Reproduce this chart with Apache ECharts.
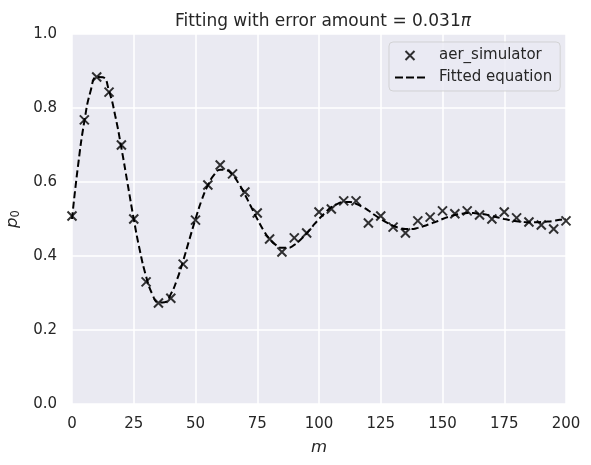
<!DOCTYPE html>
<html>
<head>
<meta charset="utf-8">
<script src="https://cdn.jsdelivr.net/npm/echarts@6/dist/echarts.min.js"></script>
<style>
  html, body { margin: 0; padding: 0; background: #fff; }
  #main { width: 591px; height: 465px; }
</style>
</head>
<body>
<div id="main"></div>
<script>
// measured points (aer_simulator)
var simM = [0, 5, 10, 15, 20, 25, 30, 35, 40, 45, 50, 55, 60, 65, 70, 75, 80, 85, 90, 95,
            100, 105, 110, 115, 120, 125, 130, 135, 140, 145, 150, 155, 160, 165, 170, 175, 180, 185, 190, 195, 200];
var simP = [0.508, 0.768, 0.884, 0.843, 0.700, 0.500, 0.330, 0.273, 0.286, 0.378,
            0.497, 0.592, 0.646, 0.622, 0.573, 0.516, 0.446, 0.411, 0.449, 0.462,
            0.519, 0.527, 0.549, 0.549, 0.489, 0.508, 0.478, 0.462, 0.495, 0.505,
            0.522, 0.514, 0.522, 0.511, 0.500, 0.519, 0.503, 0.492, 0.484, 0.473, 0.495];

// fitted curve
var fitM = [0, 2.5, 5, 7.5, 10, 12.5, 15, 17.5, 20, 22.5, 25, 27.5, 30, 32.5, 35, 37.5, 40, 42.5, 45, 47.5,
            50, 52.5, 55, 57.5, 60, 62.5, 65, 67.5, 70, 72.5, 75, 77.5, 80, 82.5, 85, 87.5, 90, 92.5, 95, 97.5,
            100, 102.5, 105, 107.5, 110, 112.5, 115, 117.5, 120, 122.5, 125, 127.5, 130, 132.5, 135, 137.5, 140, 142.5, 145, 147.5,
            150, 152.5, 155, 157.5, 160, 162.5, 165, 167.5, 170, 172.5, 175, 177.5, 180, 182.5, 185, 187.5, 190, 192.5, 195, 197.5, 200];
var fitP = [0.500, 0.647, 0.764, 0.845, 0.884, 0.883, 0.846, 0.779, 0.692, 0.596,
            0.500, 0.414, 0.345, 0.297, 0.274, 0.275, 0.297, 0.336, 0.387, 0.444,
            0.500, 0.551, 0.591, 0.619, 0.633, 0.632, 0.619, 0.596, 0.566, 0.533,
            0.500, 0.470, 0.446, 0.430, 0.422, 0.422, 0.430, 0.444, 0.461, 0.481,
            0.500, 0.517, 0.532, 0.541, 0.546, 0.546, 0.541, 0.533, 0.523, 0.511,
            0.500, 0.490, 0.482, 0.476, 0.473, 0.473, 0.476, 0.481, 0.487, 0.493,
            0.500, 0.506, 0.511, 0.514, 0.516, 0.516, 0.514, 0.512, 0.508, 0.504,
            0.500, 0.497, 0.494, 0.492, 0.491, 0.491, 0.492, 0.493, 0.495, 0.498, 0.500];

var xTicks = [0, 25, 50, 75, 100, 125, 150, 175, 200];
var yTicks = ['0.0', '0.2', '0.4', '0.6', '0.8', '1.0'];

var crossIcon = 'path://M0,0L10,10M10,0L0,10';
var dashIcon = 'path://M0,0h8v2.2h-8z M11,0h8v2.2h-8z M22,0h8v2.2h-8z';
var textCol = '#262626';

var myChart = echarts.init(document.getElementById('main'));

var option = {
    backgroundColor: '#ffffff',
    animation: false,
    title: {
        text: 'Fitting with error amount = 0.031{i|π}',
        left: 318,
        textAlign: 'center',
        top: 8,
        textStyle: {
            fontFamily: 'DejaVu Sans',
            fontSize: 17,
            fontWeight: 'normal',
            color: textCol,
            rich: {
                i: { fontFamily: 'DejaVu Sans', fontSize: 17, fontStyle: 'italic', color: textCol }
            }
        }
    },
    legend: {
        orient: 'vertical',
        left: 389,
        top: 42,
        width: 171,
        padding: [6, 8, 6, 6],
        itemGap: 7,
        itemWidth: 30,
        itemHeight: 9,
        backgroundColor: 'rgba(234,234,242,0.8)',
        borderColor: 'rgba(204,204,204,0.8)',
        borderWidth: 1,
        borderRadius: 4,
        textStyle: { fontFamily: 'DejaVu Sans', fontSize: 15, color: textCol, padding: [0, 0, 0, 9] },
        data: [
            { name: 'aer_simulator', icon: crossIcon, itemStyle: { color: 'transparent', borderColor: '#000', borderWidth: 2 } },
            { name: 'Fitted equation', icon: dashIcon, itemStyle: { color: '#000', borderWidth: 0 } }
        ]
    },
    grid: {
        left: 72, right: 25, top: 34, bottom: 61,
        outerBoundsMode: 'none', containLabel: false,
        show: true, backgroundColor: '#EAEAF2', borderWidth: 0
    },
    xAxis: {
        type: 'value',
        min: 0,
        max: 200,
        interval: 25,
        name: 'm',
        nameLocation: 'middle',
        nameGap: 35,
        nameTextStyle: { fontFamily: 'DejaVu Sans', fontSize: 16.5, fontStyle: 'italic', color: textCol },
        axisLine: { show: false },
        axisTick: { show: false },
        axisLabel: {
            margin: 13,
            fontFamily: 'DejaVu Sans', fontSize: 15, color: textCol,
            formatter: function (v) { return xTicks.indexOf(v) >= 0 ? String(v) : ''; }
        },
        splitLine: { lineStyle: { color: '#ffffff', width: 1.5 } }
    },
    yAxis: {
        type: 'value',
        min: 0,
        max: 1,
        interval: 0.2,
        name: '{i|p}{s|0}',
        nameLocation: 'middle',
        nameGap: 50,
        nameTextStyle: {
            color: textCol,
            rich: {
                i: { fontFamily: 'DejaVu Sans', fontSize: 16.5, fontStyle: 'italic', color: textCol },
                s: { fontFamily: 'DejaVu Sans', fontSize: 11.5, color: textCol, padding: [7, 0, 0, 0] }
            }
        },
        axisLine: { show: false },
        axisTick: { show: false },
        axisLabel: {
            margin: 15,
            fontFamily: 'DejaVu Sans', fontSize: 15, color: textCol,
            formatter: function (v) { return yTicks[Math.round(v * 5)]; }
        },
        splitLine: { lineStyle: { color: '#ffffff', width: 1.5 } }
    },
    series: [
        {
            name: 'aer_simulator',
            type: 'scatter',
            symbol: crossIcon,
            symbolSize: 9,
            z: 5,
            itemStyle: { color: 'transparent', borderColor: '#000', borderWidth: 2 },
            data: simM.map(function (m, i) { return [m, simP[i]]; })
        },
        {
            name: 'Fitted equation',
            type: 'line',
            smooth: true,
            showSymbol: false,
            symbol: 'none',
            z: 3,
            itemStyle: { color: '#000' },
            lineStyle: { color: '#000', width: 2, type: [7, 3.5] },
            data: fitM.map(function (m, i) { return [m, fitP[i]]; })
        }
    ]
};

myChart.setOption(option);
</script>
</body>
</html>
